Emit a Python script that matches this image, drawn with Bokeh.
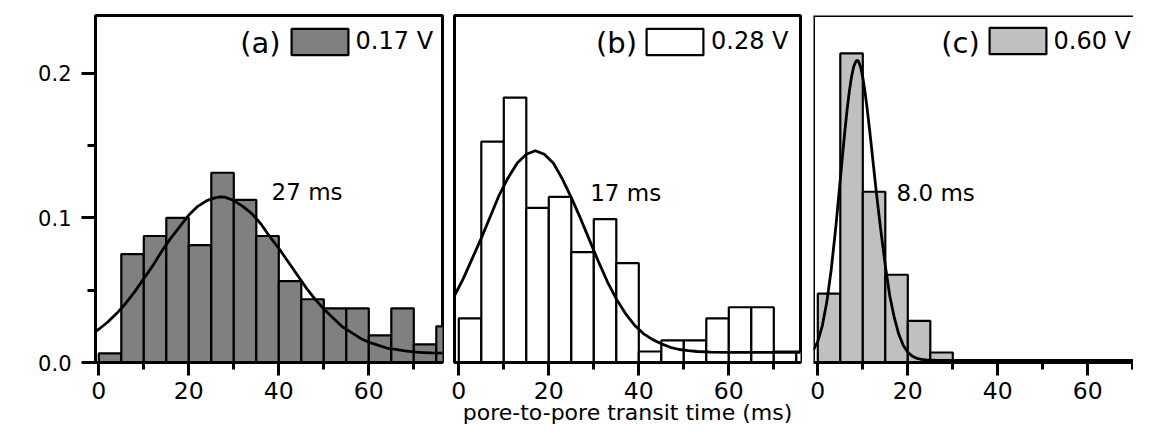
import math
from bokeh.plotting import figure
from bokeh.models import Range1d, FixedTicker, Label, Legend, LegendItem, Span, ColumnDataSource
from bokeh.layouts import row
from bokeh.embed import file_html
from bokeh.resources import INLINE

FONT = "DejaVu Sans"

# ---------------- data ----------------
bin_left = [0, 5, 10, 15, 20, 25, 30, 35, 40, 45, 50, 55, 60, 65, 70, 75]
bin_width = 5

panel_tags = ["(a)", "(b)", "(c)"]
voltages = ["0.17 V", "0.28 V", "0.60 V"]
peak_texts = ["27 ms", "17 ms", "8.0 ms"]
bar_colors = ["#808080", "#FFFFFF", "#C0C0C0"]

a_counts = [0.00625, 0.075, 0.0875, 0.1, 0.08125, 0.13125, 0.1125, 0.0875,
            0.05625, 0.04375, 0.0375, 0.0375, 0.01875, 0.0375, 0.0125, 0.025]
b_counts = [0.0305, 0.1527, 0.1832, 0.1069, 0.1145, 0.0763, 0.0992, 0.0687,
            0.0076, 0.0153, 0.0153, 0.0305, 0.0382, 0.0382, 0.0076, 0.0076]
c_counts = [0.0477, 0.2138, 0.1181, 0.0607, 0.0288, 0.0069, 0.0, 0.0,
            0.0, 0.0, 0.0, 0.0, 0.0, 0.0, 0.0, 0.0]

a_fit_x = [-1, 0, 2, 4, 6, 8, 10, 12, 14, 16, 18, 20, 22, 24, 26, 27, 28, 30, 32, 34,
           36, 38, 40, 42, 44, 46, 48, 50, 52, 54, 56, 58, 60, 62, 64, 66, 68, 70,
           72, 74, 77]
a_fit_y = [0.021, 0.023, 0.028, 0.034, 0.041, 0.049, 0.058, 0.067, 0.077, 0.086,
           0.094, 0.102, 0.108, 0.112, 0.114, 0.1146, 0.1144, 0.112, 0.108, 0.103,
           0.096, 0.087, 0.079, 0.070, 0.061, 0.052, 0.044, 0.037, 0.031, 0.025,
           0.021, 0.017, 0.014, 0.012, 0.010, 0.009, 0.008, 0.0073, 0.0069,
           0.0066, 0.0064]

b_fit_x = [-1, 1, 3, 5, 7, 9, 11, 13, 15, 17, 19, 21, 23, 25, 27, 29, 31, 33, 35,
           37, 39, 41, 43, 45, 47, 49, 51, 53, 56, 60, 77]
b_fit_y = [0.046, 0.058, 0.072, 0.086, 0.101, 0.116, 0.128, 0.138, 0.144, 0.1465,
           0.144, 0.138, 0.127, 0.114, 0.100, 0.085, 0.070, 0.056, 0.044, 0.034,
           0.026, 0.020, 0.016, 0.013, 0.0105, 0.009, 0.0082, 0.0076, 0.0072,
           0.0070, 0.0070]

c_fit_x = [-1, 0, 1, 2, 3, 4, 5, 5.5, 6, 6.5, 7, 7.5, 8, 8.5, 8.75, 9, 9.5, 10,
           10.5, 11, 11.5, 12, 12.5, 13, 13.5, 14, 15, 16, 17, 18, 19, 20, 21, 22,
           23, 24, 26, 30, 76]
c_fit_y = [0.0083, 0.0147, 0.0254, 0.0418, 0.0647, 0.0936, 0.1266, 0.1434, 0.1596,
           0.1745, 0.1874, 0.1977, 0.2049, 0.2085, 0.209, 0.2085, 0.2046, 0.1971,
           0.1869, 0.1747, 0.1612, 0.1469, 0.1324, 0.118, 0.1045, 0.0915, 0.067,
           0.046, 0.031, 0.0195, 0.0118, 0.0071, 0.0044, 0.0029, 0.0022, 0.0018,
           0.0016, 0.0015, 0.0015]

x_ticks = [0, 20, 40, 60]
x_minor = [10, 30, 50, 70]
y_ticks = [0.0, 0.1, 0.2]
y_minor = [0.05, 0.15]
y_tick_labels = {0.0: "0.0", 0.1: "0.1", 0.2: "0.2"}
y_title = "counts/total"
x_title = "pore-to-pore transit time (ms)"

# ---------------- layout constants (page content must fit 1133 x 429) ----------------
H = 429
TOP = 15
FRAME_H = 347
BOTTOM = H - TOP - FRAME_H
Y_MAX = 0.24

panels = [
    dict(counts=a_counts, fx=a_fit_x, fy=a_fit_y, left=95, right=2, fw=347, x0=-0.733,
         leg=(188.6, 304.3), tag_x=40.4, peak_x=38.4, peak_y=0.1182, yaxis=True,
         box=True, title=False),
    dict(counts=b_counts, fx=b_fit_x, fy=b_fit_y, left=10, right=6, fw=346, x0=-0.956,
         leg=(185.0, 304.3), tag_x=39.6, peak_x=29.2, peak_y=0.1170, yaxis=False,
         box=True, title=True),
    dict(counts=c_counts, fx=c_fit_x, fy=c_fit_y, left=7, right=0, fw=320, x0=-0.956,
         leg=(168.5, 305.0), tag_x=36.0, peak_x=17.5, peak_y=0.1170, yaxis=False,
         box=False, title=False),
]

figs = []
for i, pd in enumerate(panels):
    x1 = pd["x0"] + pd["fw"] / 4.5
    p = figure(width=pd["left"] + pd["fw"] + pd["right"], height=H, title=None,
               x_range=Range1d(pd["x0"], x1), y_range=Range1d(0, Y_MAX),
               output_backend="svg", toolbar_location=None,
               min_border_left=pd["left"], min_border_right=pd["right"],
               min_border_top=TOP, min_border_bottom=BOTTOM,
               y_axis_location="left" if pd["yaxis"] else None)
    p.grid.visible = False
    p.background_fill_color = "white"
    p.border_fill_color = "white"
    if pd["box"]:
        p.outline_line_color = "black"
        p.outline_line_width = 3
    else:
        p.outline_line_color = None
        p.add_layout(Span(location=Y_MAX, dimension="width", line_color="black", line_width=3))
        p.add_layout(Span(location=pd["x0"], dimension="height", line_color="black", line_width=3))

    src = ColumnDataSource(dict(left=bin_left,
                                right=[b + bin_width for b in bin_left],
                                top=pd["counts"]))
    bars = p.quad(left="left", right="right", bottom=0, top="top", source=src,
                  fill_color=bar_colors[i], line_color="black", line_width=2.2)
    p.line(pd["fx"], pd["fy"], line_color="black", line_width=2.8, line_join="round")

    xa = p.xaxis[0]
    xa.ticker = FixedTicker(ticks=x_ticks, minor_ticks=x_minor)
    xa.axis_line_width = 3
    xa.major_tick_in = 0
    xa.major_tick_out = 13
    xa.minor_tick_in = 0
    xa.minor_tick_out = 7
    xa.major_tick_line_width = 3
    xa.minor_tick_line_width = 3
    xa.major_label_text_font = FONT
    xa.major_label_text_font_size = "23.5px"
    xa.major_label_text_color = "black"
    xa.major_label_standoff = 6
    if pd["title"]:
        # shared x-axis title, carried by the middle panel's axis
        xa.axis_label = x_title
        xa.axis_label_text_font = FONT
        xa.axis_label_text_font_size = "22px"
        xa.axis_label_text_font_style = "normal"
        xa.axis_label_text_color = "black"
        xa.axis_label_standoff = -2

    if pd["yaxis"]:
        ya = p.yaxis[0]
        ya.ticker = FixedTicker(ticks=y_ticks, minor_ticks=y_minor)
        ya.major_label_overrides = y_tick_labels
        ya.axis_line_width = 3
        ya.major_tick_in = 0
        ya.major_tick_out = 14
        ya.minor_tick_in = 0
        ya.minor_tick_out = 8
        ya.major_tick_line_width = 3
        ya.minor_tick_line_width = 3
        ya.major_label_text_font = FONT
        ya.major_label_text_font_size = "21px"
        ya.major_label_text_color = "black"
        ya.major_label_standoff = 10
        p.add_layout(Label(x=-15.2, y=0.105, text=y_title, angle=math.pi / 2,
                           text_align="center", text_baseline="alphabetic",
                           text_font=FONT, text_font_size="22px", text_color="black"))

    legend = Legend(items=[LegendItem(label=voltages[i], renderers=[bars])],
                    location=pd["leg"], glyph_width=71, glyph_height=33,
                    label_standoff=1, padding=0, margin=0, spacing=0,
                    border_line_color=None, background_fill_alpha=0,
                    label_text_font=FONT, label_text_font_size="24px",
                    label_text_color="black")
    p.add_layout(legend)

    p.add_layout(Label(x=pd["tag_x"], y=0.2211, text=panel_tags[i], text_align="right",
                       text_baseline="middle", text_font=FONT, text_font_size="29px",
                       text_color="black"))
    p.add_layout(Label(x=pd["peak_x"], y=pd["peak_y"], text=peak_texts[i],
                       text_align="left", text_baseline="alphabetic", text_font=FONT,
                       text_font_size="23px", text_color="black"))
    figs.append(p)

layout = row(*figs, spacing=0)
open("out.html", "w").write(file_html(layout, INLINE))
